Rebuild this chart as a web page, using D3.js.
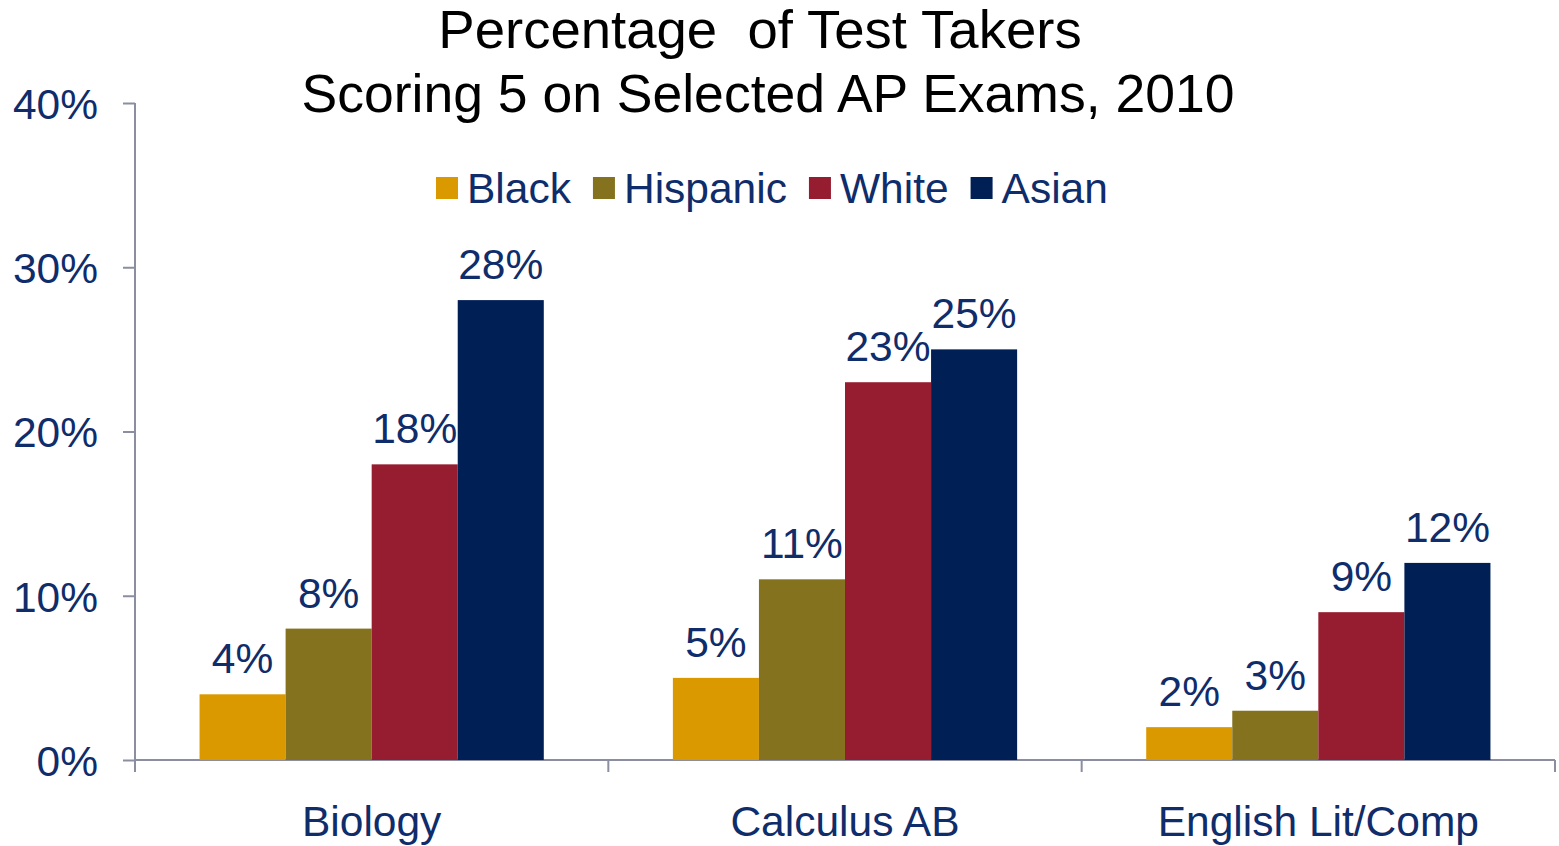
<!DOCTYPE html>
<html>
<head>
<meta charset="utf-8">
<style>
    body { margin: 0; background: #fff; font-family: "Liberation Sans", Arial, sans-serif; }
    .tick-lbl { font-size: 42.5px; fill: #0f2c6b; }
</style>
<script src="https://d3js.org/d3.v7.min.js"></script>
</head>
<body>
<div id="chart"></div>
<script>
    var categories = ["Biology", "Calculus AB", "English Lit/Comp"];
    var groups = ["Black", "Hispanic", "White", "Asian"];
    var black = [4, 5, 2];
    var hispanic = [8, 11, 3];
    var white = [18, 23, 9];
    var asian = [28, 25, 12];
    var yTicks = [0, 10, 20, 30, 40];
    var colors = ["#db9900", "#84721e", "#961c2f", "#001f55"];

    var series = [black, hispanic, white, asian];
    var textColor = "#0f2c6b";
    var axisColor = "#8a8ea0";
    var fs = 42.5;

    var svg = d3.select("#chart").append("svg")
        .attr("width", 1559)
        .attr("height", 846);

    var x = d3.scaleBand().domain(categories).range([135, 1555]);
    var bw = x.bandwidth();
    var barW = bw / 5.5;   // gap width 150%
    var xInner = d3.scaleBand().domain(groups)
        .range([barW * 0.75, bw - barW * 0.75]);
    var y = d3.scaleLinear().domain([0, 40]).range([760, 103]);

    // title
    svg.append("text")
        .attr("x", 760).attr("y", 48)
        .attr("text-anchor", "middle")
        .style("white-space", "pre")
        .attr("font-size", 54.5)
        .attr("fill", "#000")
        .text("Percentage  of Test Takers");
    svg.append("text")
        .attr("x", 768).attr("y", 112)
        .attr("text-anchor", "middle")
        .attr("font-size", 53.5)
        .attr("fill", "#000")
        .text("Scoring 5 on Selected AP Exams, 2010");

    // y axis
    var yAxis = svg.append("g")
        .attr("transform", "translate(135,0)")
        .call(d3.axisLeft(y).tickValues(yTicks).tickSize(12).tickPadding(25)
            .tickFormat(function(d) { return d + "%"; }));
    yAxis.select(".domain").remove();
    yAxis.selectAll("line").attr("stroke", axisColor).attr("stroke-width", 2);
    yAxis.selectAll("text").attr("class", "tick-lbl").attr("font-family", null).attr("font-size", null)
        .attr("dy", "0.36em");
    svg.append("line")
        .attr("x1", 135).attr("x2", 135)
        .attr("y1", y(40)).attr("y2", 772)
        .attr("stroke", axisColor).attr("stroke-width", 2);

    // x axis line + boundary ticks
    svg.append("line")
        .attr("x1", 135).attr("x2", 1555)
        .attr("y1", 760).attr("y2", 760)
        .attr("stroke", axisColor).attr("stroke-width", 2);
    svg.selectAll(".xtick")
        .data(categories)
        .enter().append("line")
        .attr("class", "xtick")
        .attr("x1", function(d) { return x(d) + bw; })
        .attr("x2", function(d) { return x(d) + bw; })
        .attr("y1", 760).attr("y2", 772)
        .attr("stroke", axisColor).attr("stroke-width", 2);

    svg.selectAll(".cat")
        .data(categories)
        .enter().append("text")
        .attr("x", function(d) { return x(d) + bw / 2; })
        .attr("y", 836)
        .attr("text-anchor", "middle")
        .attr("font-size", fs)
        .attr("fill", textColor)
        .text(function(d) { return d; });

    // bars
    groups.forEach(function(g, gi) {
        var vals = series[gi];
        svg.selectAll(".bar-" + gi)
            .data(categories)
            .enter().append("rect")
            .attr("x", function(d) { return x(d) + xInner(g); })
            .attr("width", xInner.bandwidth())
            .attr("y", function(d, i) { return y(vals[i]); })
            .attr("height", function(d, i) { return 760 - y(vals[i]); })
            .attr("fill", colors[gi]);

        svg.selectAll(".lbl-" + gi)
            .data(categories)
            .enter().append("text")
            .attr("x", function(d) { return x(d) + xInner(g) + xInner.bandwidth() / 2; })
            .attr("y", function(d, i) { return y(vals[i]) - 21; })
            .attr("text-anchor", "middle")
            .attr("font-size", fs)
            .attr("fill", textColor)
            .text(function(d, i) { return vals[i] + "%"; });
    });

    // legend
    var lx = 436;
    var legend = svg.append("g");
    groups.forEach(function(g, gi) {
        legend.append("rect")
            .attr("x", lx).attr("y", 177)
            .attr("width", 22).attr("height", 22)
            .attr("fill", colors[gi]);
        var t = legend.append("text")
            .attr("x", lx + 31).attr("y", 203)
            .attr("font-size", fs)
            .attr("fill", textColor)
            .text(g);
        lx += 31 + t.node().getComputedTextLength() + 22;
    });
</script>
</body>
</html>
